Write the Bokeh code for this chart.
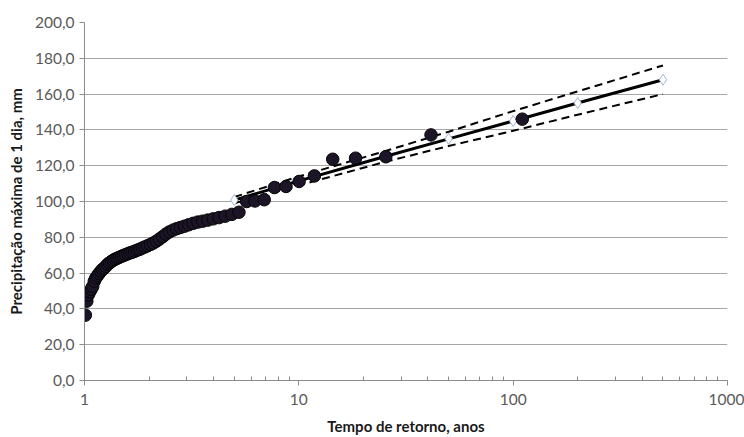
from bokeh.plotting import figure
from bokeh.models import FixedTicker, CustomJSTickFormatter, Range1d
from bokeh.embed import file_html
from bokeh.resources import INLINE

# Observed data: return period (years) and max 1-day precipitation (mm)
obs_T = [1.009, 1.025, 1.041, 1.058, 1.075, 1.092, 1.111, 1.130, 1.149, 1.170,
         1.191, 1.212, 1.235, 1.259, 1.283, 1.308, 1.335, 1.362, 1.391, 1.421,
         1.452, 1.484, 1.518, 1.554, 1.591, 1.631, 1.672, 1.715, 1.761, 1.809,
         1.860, 1.913, 1.970, 2.031, 2.095, 2.163, 2.236, 2.315, 2.399, 2.489,
         2.586, 2.691, 2.805, 2.929, 3.065, 3.214, 3.378, 3.559, 3.761, 3.988,
         4.244, 4.534, 4.868, 5.254, 5.707, 6.245, 6.896, 7.698, 8.711, 10.03,
         11.82, 14.39, 18.39, 25.46, 41.38, 110.3]
obs_P = [36.5, 44.3, 47.8, 49.5, 51.0, 52.5, 55.5, 57.3, 58.5, 59.8,
         61.0, 62.0, 62.8, 63.8, 65.0, 65.7, 66.5, 67.2, 67.8, 68.3,
         68.8, 69.3, 69.8, 70.3, 70.8, 71.3, 71.7, 72.2, 72.8, 73.3,
         74.0, 74.6, 75.3, 76.0, 76.8, 77.8, 79.0, 80.3, 81.8, 83.0,
         84.0, 84.8, 85.5, 86.2, 87.0, 87.8, 88.5, 89.0, 89.6, 90.3,
         91.0, 91.8, 92.8, 94.0, 100.0, 100.3, 101.0, 107.8, 108.4, 111.2,
         114.3, 123.6, 124.2, 125.0, 137.2, 146.0]

# Fitted distribution and confidence band
fit_T = [5, 10, 25, 50, 100, 200, 500]
fit_P = [100.8, 111.5, 125.0, 135.0, 145.0, 155.0, 168.0]
upper_P = [102.5, 114.0, 128.0, 139.0, 150.5, 161.5, 176.0]
lower_P = [99.0, 109.0, 122.0, 131.0, 139.5, 148.5, 160.0]

x_ticks = [1, 10, 100, 1000]
y_ticks = [0, 20, 40, 60, 80, 100, 120, 140, 160, 180, 200]

p = figure(width=744, height=437, x_axis_type="log", output_backend="svg",
           toolbar_location=None, x_range=Range1d(1, 1000), y_range=Range1d(0, 200),
           min_border_left=84, min_border_right=17, min_border_top=22, min_border_bottom=56)
p.outline_line_color = None
p.background_fill_color = "white"
p.border_fill_color = "white"

minor = [m * d for d in (1, 10, 100) for m in range(2, 10)]
p.xaxis.ticker = FixedTicker(ticks=x_ticks, minor_ticks=minor)
p.yaxis.ticker = FixedTicker(ticks=y_ticks, minor_ticks=[])
p.xaxis.formatter = CustomJSTickFormatter(code="return tick.toFixed(0);")
p.yaxis.formatter = CustomJSTickFormatter(code="return tick.toFixed(1).replace('.', ',');")

p.xgrid.grid_line_color = None
p.ygrid.grid_line_color = "#a6a6a6"
p.ygrid.grid_line_width = 1

for ax in (p.xaxis, p.yaxis):
    ax.axis_line_color = "#8c8c8c"
    ax.major_tick_line_color = "#8c8c8c"
    ax.minor_tick_line_color = "#8c8c8c"
    ax.major_label_text_color = "#595959"
    ax.major_label_text_font = "Lato"
    ax.major_label_text_font_size = "15.5px"
    ax.axis_label_text_font = "Lato"
    ax.axis_label_text_font_size = "15px"
    ax.axis_label_text_font_style = "bold"
    ax.axis_label_text_color = "#1a1a1a"
    ax.major_tick_in = 0
    ax.major_tick_out = 5

p.xaxis.minor_tick_in = 4
p.xaxis.minor_tick_out = 0
p.yaxis.minor_tick_in = 0
p.yaxis.minor_tick_out = 0
p.xaxis.major_label_standoff = 8
p.yaxis.major_label_standoff = 5
p.xaxis.axis_label = "Tempo de retorno, anos"
p.yaxis.axis_label = "Precipitação máxima de 1 dia, mm"
p.xaxis.axis_label_standoff = 9
p.yaxis.axis_label_standoff = 7

p.line(fit_T, upper_P, line_color="black", line_width=2, line_dash="8 5")
p.line(fit_T, lower_P, line_color="black", line_width=2, line_dash="8 5")
p.line(fit_T, fit_P, line_color="black", line_width=3)
p.scatter(fit_T, fit_P, marker="diamond", size=11, fill_color="white",
          line_color="#9fb6d8", line_width=1)
p.scatter(obs_T, obs_P, marker="circle", size=12.5, fill_color="#1c1528",
          line_color="#050505", line_width=1)

open("out.html", "w").write(file_html(p, INLINE))
